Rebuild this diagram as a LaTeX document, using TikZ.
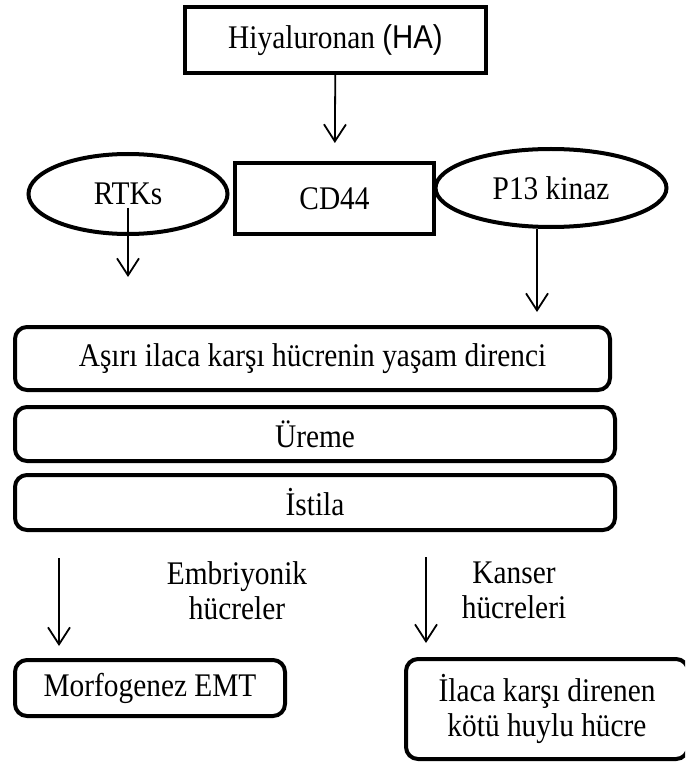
\documentclass[tikz,border=0pt]{standalone}
\usepackage{fontspec}
\setmainfont[FakeStretch=0.89]{Liberation Serif}
\setsansfont[FakeStretch=0.89]{Liberation Sans}
\usetikzlibrary{shapes.geometric,arrows.meta}
\begin{document}
\begin{tikzpicture}
[x=1pt, y=-1pt, font=\fontsize{33}{35}\selectfont,
 kutu/.style={draw, line width=4pt, inner sep=0pt, align=center},
 yuvarlak/.style={kutu, rounded corners=12pt},
 oval/.style={draw, ellipse, line width=4pt, inner sep=0pt},
 ok/.style={line width=1.8pt, -{Straight Barb[length=17pt, width=22pt]}}]
\useasboundingbox (0,0) rectangle (685,767);
\clip (0,0) rectangle (685,767);
\node (ha) [kutu, minimum width=301pt, minimum height=66pt] at (335.5,40) {Hiyaluronan {\sffamily (HA)}};
\node (rtk) [oval, minimum width=199pt, minimum height=80pt] at (128,194) {RTKs};
\node (p13) [oval, minimum width=231pt, minimum height=78pt] at (551,188) {P13 kinaz};
\node (cd) [kutu, minimum width=199pt, minimum height=71pt] at (334.5,198.5) {CD44};
\node (a1) [yuvarlak, minimum width=595pt, minimum height=63pt] at (312.5,358.5) {Aşırı ilaca karşı hücrenin yaşam direnci};
\node (a2) [yuvarlak, minimum width=600pt, minimum height=54pt] at (315,434) {Üreme};
\node (a3) [yuvarlak, minimum width=600pt, minimum height=55pt] at (315,502.5) {İstila};
\node (emb) [align=center] at (237,590.5) {Embriyonik\\hücreler};
\node (kan) [align=center] at (514,590.5) {Kanser\\hücreleri};
\node (morf) [yuvarlak, minimum width=270pt, minimum height=56pt] at (150,688) {Morfogenez EMT};
\node (ilac) [yuvarlak, minimum width=282pt, minimum height=100pt] at (547,709) {İlaca karşı direnen\\kötü huylu hücre};
% oklar
\coordinate (rtkucu) at (128,277);
\coordinate (p13ucu) at (537,312);
\coordinate (embbas) at (59,558);
\coordinate (kanbas) at (426,557);
\draw [ok, shorten >=18pt] (ha) -- (cd);
\draw [ok] ([yshift=-14pt]rtk.center) -- (rtkucu);
\draw [ok] (p13ucu |- p13.south) -- (p13ucu);
\draw [ok, shorten >=12pt] (embbas) -- (embbas |- morf.north);
\draw [ok, shorten >=14pt] (kanbas) -- (kanbas |- ilac.north);
\end{tikzpicture}
\end{document}
